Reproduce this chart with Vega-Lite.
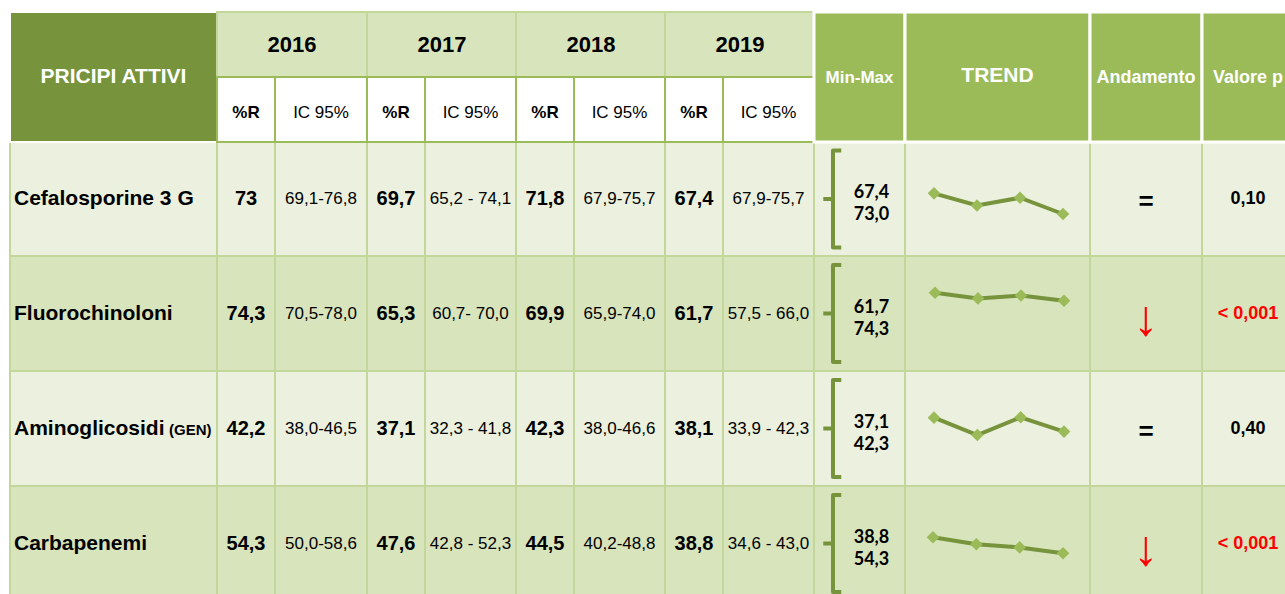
{
  "$schema": "https://vega.github.io/schema/vega-lite/v6.json",
  "width": 1285,
  "height": 594,
  "padding": 0,
  "autosize": {"type": "none"},
  "background": "#FFFFFF",
  "config": {"view": {"stroke": null}, "axis": {"disable": true}, "text": {"font": "Liberation Sans", "baseline": "middle"}},
  "datasets": {
    "hdr": [
      {"k": "dark", "c0": 0, "c1": 1, "r0": 0, "r1": 2, "cm": 0.5, "rm": 1, "t": "PRICIPI ATTIVI"},
      {"k": "year", "c0": 1, "c1": 3, "r0": 0, "r1": 1, "cm": 1, "rm": 0.5, "t": "2016"},
      {"k": "year", "c0": 3, "c1": 5, "r0": 0, "r1": 1, "cm": 3, "rm": 0.5, "t": "2017"},
      {"k": "year", "c0": 5, "c1": 7, "r0": 0, "r1": 1, "cm": 5, "rm": 0.5, "t": "2018"},
      {"k": "year", "c0": 7, "c1": 9, "r0": 0, "r1": 1, "cm": 7, "rm": 0.5, "t": "2019"},
      {"k": "subR", "c0": 1, "c1": 2, "r0": 1, "r1": 2, "cm": 1.5, "rm": 1.5, "t": "%R"},
      {"k": "subI", "c0": 2, "c1": 3, "r0": 1, "r1": 2, "cm": 2.5, "rm": 1.5, "t": "IC 95%"},
      {"k": "subR", "c0": 3, "c1": 4, "r0": 1, "r1": 2, "cm": 3.5, "rm": 1.5, "t": "%R"},
      {"k": "subI", "c0": 4, "c1": 5, "r0": 1, "r1": 2, "cm": 4.5, "rm": 1.5, "t": "IC 95%"},
      {"k": "subR", "c0": 5, "c1": 6, "r0": 1, "r1": 2, "cm": 5.5, "rm": 1.5, "t": "%R"},
      {"k": "subI", "c0": 6, "c1": 7, "r0": 1, "r1": 2, "cm": 6.5, "rm": 1.5, "t": "IC 95%"},
      {"k": "subR", "c0": 7, "c1": 8, "r0": 1, "r1": 2, "cm": 7.5, "rm": 1.5, "t": "%R"},
      {"k": "subI", "c0": 8, "c1": 9, "r0": 1, "r1": 2, "cm": 8.5, "rm": 1.5, "t": "IC 95%"},
      {"k": "green", "c0": 9, "c1": 10, "r0": 0, "r1": 2, "cm": 9.5, "rm": 1, "t": "Min-Max"},
      {"k": "green", "c0": 10, "c1": 11, "r0": 0, "r1": 2, "cm": 10.5, "rm": 1, "t": "TREND"},
      {"k": "green", "c0": 11, "c1": 12, "r0": 0, "r1": 2, "cm": 11.5, "rm": 1, "t": "Andamento"},
      {"k": "green", "c0": 12, "c1": 13, "r0": 0, "r1": 2, "cm": 12.5, "rm": 1, "t": "Valore p"}
    ],
    "rows": [
      {"drug": "Cefalosporine 3 G", "gen": "", "r0": 2, "r1": 3, "rm": 2.5, "band": "a", "mn": "67,4", "mx": "73,0", "tr": "=", "p": "0,10", "sig": "no"},
      {"drug": "Fluorochinoloni", "gen": "", "r0": 3, "r1": 4, "rm": 3.5, "band": "b", "mn": "61,7", "mx": "74,3", "tr": "↓", "p": "< 0,001", "sig": "yes"},
      {"drug": "Aminoglicosidi", "gen": "(GEN)", "r0": 4, "r1": 5, "rm": 4.5, "band": "a", "mn": "37,1", "mx": "42,3", "tr": "=", "p": "0,40", "sig": "no"},
      {"drug": "Carbapenemi", "gen": "", "r0": 5, "r1": 6, "rm": 5.5, "band": "b", "mn": "38,8", "mx": "54,3", "tr": "↓", "p": "< 0,001", "sig": "yes"}
    ],
    "vals": [
      {"drug": "Cefalosporine 3 G", "rm": 2.5, "year": 2016, "cR": 1.5, "cI": 2.5, "pr": "73", "v": 73, "ic": "69,1-76,8"},
      {"drug": "Cefalosporine 3 G", "rm": 2.5, "year": 2017, "cR": 3.5, "cI": 4.5, "pr": "69,7", "v": 69.7, "ic": "65,2 - 74,1"},
      {"drug": "Cefalosporine 3 G", "rm": 2.5, "year": 2018, "cR": 5.5, "cI": 6.5, "pr": "71,8", "v": 71.8, "ic": "67,9-75,7"},
      {"drug": "Cefalosporine 3 G", "rm": 2.5, "year": 2019, "cR": 7.5, "cI": 8.5, "pr": "67,4", "v": 67.4, "ic": "67,9-75,7"},
      {"drug": "Fluorochinoloni", "rm": 3.5, "year": 2016, "cR": 1.5, "cI": 2.5, "pr": "74,3", "v": 74.3, "ic": "70,5-78,0"},
      {"drug": "Fluorochinoloni", "rm": 3.5, "year": 2017, "cR": 3.5, "cI": 4.5, "pr": "65,3", "v": 65.3, "ic": "60,7- 70,0"},
      {"drug": "Fluorochinoloni", "rm": 3.5, "year": 2018, "cR": 5.5, "cI": 6.5, "pr": "69,9", "v": 69.9, "ic": "65,9-74,0"},
      {"drug": "Fluorochinoloni", "rm": 3.5, "year": 2019, "cR": 7.5, "cI": 8.5, "pr": "61,7", "v": 61.7, "ic": "57,5 - 66,0"},
      {"drug": "Aminoglicosidi", "rm": 4.5, "year": 2016, "cR": 1.5, "cI": 2.5, "pr": "42,2", "v": 42.2, "ic": "38,0-46,5"},
      {"drug": "Aminoglicosidi", "rm": 4.5, "year": 2017, "cR": 3.5, "cI": 4.5, "pr": "37,1", "v": 37.1, "ic": "32,3 - 41,8"},
      {"drug": "Aminoglicosidi", "rm": 4.5, "year": 2018, "cR": 5.5, "cI": 6.5, "pr": "42,3", "v": 42.3, "ic": "38,0-46,6"},
      {"drug": "Aminoglicosidi", "rm": 4.5, "year": 2019, "cR": 7.5, "cI": 8.5, "pr": "38,1", "v": 38.1, "ic": "33,9 - 42,3"},
      {"drug": "Carbapenemi", "rm": 5.5, "year": 2016, "cR": 1.5, "cI": 2.5, "pr": "54,3", "v": 54.3, "ic": "50,0-58,6"},
      {"drug": "Carbapenemi", "rm": 5.5, "year": 2017, "cR": 3.5, "cI": 4.5, "pr": "47,6", "v": 47.6, "ic": "42,8 - 52,3"},
      {"drug": "Carbapenemi", "rm": 5.5, "year": 2018, "cR": 5.5, "cI": 6.5, "pr": "44,5", "v": 44.5, "ic": "40,2-48,8"},
      {"drug": "Carbapenemi", "rm": 5.5, "year": 2019, "cR": 7.5, "cI": 8.5, "pr": "38,8", "v": 38.8, "ic": "34,6 - 43,0"}
    ],
    "vl": [{"c": 0}, {"c": 1}, {"c": 2}, {"c": 3}, {"c": 4}, {"c": 5}, {"c": 6}, {"c": 7}, {"c": 8}, {"c": 9}, {"c": 10}, {"c": 11}, {"c": 12}],
    "hl": [{"r": 3}, {"r": 4}, {"r": 5}]
  },
  "layer": [
    {
      "data": {"name": "rows"},
      "mark": {"type": "rect"},
      "encoding": {
        "x": {"datum": 0, "type": "quantitative", "axis": null, "scale": {"domain": [0,1,2,3,4,5,6,7,8,9,10,11,12,13], "range": [10,217,275,367,425,516,574,665,723,814,905,1090,1202,1294], "zero": false, "nice": false}},
        "x2": {"datum": 13},
        "y": {"field": "r0", "type": "quantitative", "axis": null, "scale": {"domain": [0,1,2,3,4,5,6], "range": [12,77,142,256,371,486,601], "zero": false, "nice": false}},
        "y2": {"field": "r1"},
        "fill": {"condition": {"test": "datum.band === 'a'", "value": "#EBF1DE"}, "value": "#D8E4BC"}
      }
    },
    {
      "data": {"name": "vl"},
      "mark": {"type": "rule", "color": "#C4D79B", "strokeWidth": 2},
      "encoding": {
        "x": {"field": "c", "type": "quantitative", "axis": null, "scale": {"domain": [0,1,2,3,4,5,6,7,8,9,10,11,12,13], "range": [10,217,275,367,425,516,574,665,723,814,905,1090,1202,1294], "zero": false, "nice": false}},
        "y": {"datum": 2, "type": "quantitative", "axis": null, "scale": {"domain": [0,1,2,3,4,5,6], "range": [12,77,142,256,371,486,601], "zero": false, "nice": false}},
        "y2": {"datum": 6}
      }
    },
    {
      "data": {"name": "hl"},
      "mark": {"type": "rule", "color": "#C4D79B", "strokeWidth": 2},
      "encoding": {
        "x": {"datum": 0, "type": "quantitative", "axis": null, "scale": {"domain": [0,1,2,3,4,5,6,7,8,9,10,11,12,13], "range": [10,217,275,367,425,516,574,665,723,814,905,1090,1202,1294], "zero": false, "nice": false}},
        "x2": {"datum": 13},
        "y": {"field": "r", "type": "quantitative", "axis": null, "scale": {"domain": [0,1,2,3,4,5,6], "range": [12,77,142,256,371,486,601], "zero": false, "nice": false}}
      }
    },
    {
      "data": {"name": "hdr"},
      "transform": [{"filter": "datum.k === 'dark'"}],
      "mark": {"type": "rect", "fill": "#77933C", "stroke": "#FFFFFF", "strokeWidth": 2},
      "encoding": {
        "x": {"field": "c0", "type": "quantitative", "axis": null, "scale": {"domain": [0,1,2,3,4,5,6,7,8,9,10,11,12,13], "range": [10,217,275,367,425,516,574,665,723,814,905,1090,1202,1294], "zero": false, "nice": false}},
        "x2": {"field": "c1"},
        "y": {"field": "r0", "type": "quantitative", "axis": null, "scale": {"domain": [0,1,2,3,4,5,6], "range": [12,77,142,256,371,486,601], "zero": false, "nice": false}},
        "y2": {"field": "r1"}
      }
    },
    {
      "data": {"name": "hdr"},
      "transform": [{"filter": "datum.k === 'year'"}],
      "mark": {"type": "rect", "fill": "#D8E4BC", "stroke": "#C4D79B", "strokeWidth": 2},
      "encoding": {
        "x": {"field": "c0", "type": "quantitative", "axis": null, "scale": {"domain": [0,1,2,3,4,5,6,7,8,9,10,11,12,13], "range": [10,217,275,367,425,516,574,665,723,814,905,1090,1202,1294], "zero": false, "nice": false}},
        "x2": {"field": "c1"},
        "y": {"field": "r0", "type": "quantitative", "axis": null, "scale": {"domain": [0,1,2,3,4,5,6], "range": [12,77,142,256,371,486,601], "zero": false, "nice": false}},
        "y2": {"field": "r1"}
      }
    },
    {
      "data": {"name": "hdr"},
      "transform": [{"filter": "datum.k === 'subR' || datum.k === 'subI'"}],
      "mark": {"type": "rect", "fill": "#FFFFFF", "stroke": "#9BBB59", "strokeWidth": 2},
      "encoding": {
        "x": {"field": "c0", "type": "quantitative", "axis": null, "scale": {"domain": [0,1,2,3,4,5,6,7,8,9,10,11,12,13], "range": [10,217,275,367,425,516,574,665,723,814,905,1090,1202,1294], "zero": false, "nice": false}},
        "x2": {"field": "c1"},
        "y": {"field": "r0", "type": "quantitative", "axis": null, "scale": {"domain": [0,1,2,3,4,5,6], "range": [12,77,142,256,371,486,601], "zero": false, "nice": false}},
        "y2": {"field": "r1"}
      }
    },
    {
      "data": {"name": "hdr"},
      "transform": [{"filter": "datum.k === 'green'"}],
      "mark": {"type": "rect", "fill": "#9BBB59", "stroke": "#FFFFFF", "strokeWidth": 3},
      "encoding": {
        "x": {"field": "c0", "type": "quantitative", "axis": null, "scale": {"domain": [0,1,2,3,4,5,6,7,8,9,10,11,12,13], "range": [10,217,275,367,425,516,574,665,723,814,905,1090,1202,1294], "zero": false, "nice": false}},
        "x2": {"field": "c1"},
        "y": {"field": "r0", "type": "quantitative", "axis": null, "scale": {"domain": [0,1,2,3,4,5,6], "range": [12,77,142,256,371,486,601], "zero": false, "nice": false}},
        "y2": {"field": "r1"}
      }
    },
    {
      "data": {"name": "hdr"},
      "transform": [{"filter": "datum.k === 'dark'"}],
      "mark": {"type": "text", "color": "#FFFFFF", "fontWeight": "bold", "fontSize": 21},
      "encoding": {
        "x": {"field": "cm", "type": "quantitative", "axis": null, "scale": {"domain": [0,1,2,3,4,5,6,7,8,9,10,11,12,13], "range": [10,217,275,367,425,516,574,665,723,814,905,1090,1202,1294], "zero": false, "nice": false}},
        "y": {"field": "rm", "type": "quantitative", "axis": null, "scale": {"domain": [0,1,2,3,4,5,6], "range": [12,77,142,256,371,486,601], "zero": false, "nice": false}},
        "text": {"field": "t"}
      }
    },
    {
      "data": {"name": "hdr"},
      "transform": [{"filter": "datum.k === 'green' && datum.t === 'TREND'"}],
      "mark": {"type": "text", "color": "#FFFFFF", "fontWeight": "bold", "fontSize": 21, "dy": -1},
      "encoding": {
        "x": {"field": "cm", "type": "quantitative", "axis": null, "scale": {"domain": [0,1,2,3,4,5,6,7,8,9,10,11,12,13], "range": [10,217,275,367,425,516,574,665,723,814,905,1090,1202,1294], "zero": false, "nice": false}},
        "y": {"field": "rm", "type": "quantitative", "axis": null, "scale": {"domain": [0,1,2,3,4,5,6], "range": [12,77,142,256,371,486,601], "zero": false, "nice": false}},
        "text": {"field": "t"}
      }
    },
    {
      "data": {"name": "hdr"},
      "transform": [{"filter": "datum.k === 'green' && datum.t === 'Min-Max'"}],
      "mark": {"type": "text", "color": "#FFFFFF", "fontWeight": "bold", "fontSize": 17, "dy": 1},
      "encoding": {
        "x": {"field": "cm", "type": "quantitative", "axis": null, "scale": {"domain": [0,1,2,3,4,5,6,7,8,9,10,11,12,13], "range": [10,217,275,367,425,516,574,665,723,814,905,1090,1202,1294], "zero": false, "nice": false}},
        "y": {"field": "rm", "type": "quantitative", "axis": null, "scale": {"domain": [0,1,2,3,4,5,6], "range": [12,77,142,256,371,486,601], "zero": false, "nice": false}},
        "text": {"field": "t"}
      }
    },
    {
      "data": {"name": "hdr"},
      "transform": [{"filter": "datum.k === 'green' && datum.t !== 'TREND' && datum.t !== 'Min-Max'"}],
      "mark": {"type": "text", "color": "#FFFFFF", "fontWeight": "bold", "fontSize": 18, "dy": 1},
      "encoding": {
        "x": {"field": "cm", "type": "quantitative", "axis": null, "scale": {"domain": [0,1,2,3,4,5,6,7,8,9,10,11,12,13], "range": [10,217,275,367,425,516,574,665,723,814,905,1090,1202,1294], "zero": false, "nice": false}},
        "y": {"field": "rm", "type": "quantitative", "axis": null, "scale": {"domain": [0,1,2,3,4,5,6], "range": [12,77,142,256,371,486,601], "zero": false, "nice": false}},
        "text": {"field": "t"}
      }
    },
    {
      "data": {"name": "hdr"},
      "transform": [{"filter": "datum.k === 'year'"}],
      "mark": {"type": "text", "color": "#000000", "fontWeight": "bold", "fontSize": 22, "dx": 75},
      "encoding": {
        "x": {"field": "cm", "type": "quantitative", "axis": null, "scale": {"domain": [0,1,2,3,4,5,6,7,8,9,10,11,12,13], "range": [10,217,275,367,425,516,574,665,723,814,905,1090,1202,1294], "zero": false, "nice": false}},
        "y": {"field": "rm", "type": "quantitative", "axis": null, "scale": {"domain": [0,1,2,3,4,5,6], "range": [12,77,142,256,371,486,601], "zero": false, "nice": false}},
        "text": {"field": "t"}
      }
    },
    {
      "data": {"name": "hdr"},
      "transform": [{"filter": "datum.k === 'subR'"}],
      "mark": {"type": "text", "color": "#000000", "fontWeight": "bold", "fontSize": 17, "dy": 3},
      "encoding": {
        "x": {"field": "cm", "type": "quantitative", "axis": null, "scale": {"domain": [0,1,2,3,4,5,6,7,8,9,10,11,12,13], "range": [10,217,275,367,425,516,574,665,723,814,905,1090,1202,1294], "zero": false, "nice": false}},
        "y": {"field": "rm", "type": "quantitative", "axis": null, "scale": {"domain": [0,1,2,3,4,5,6], "range": [12,77,142,256,371,486,601], "zero": false, "nice": false}},
        "text": {"field": "t"}
      }
    },
    {
      "data": {"name": "hdr"},
      "transform": [{"filter": "datum.k === 'subI'"}],
      "mark": {"type": "text", "color": "#000000", "fontSize": 17, "dy": 3},
      "encoding": {
        "x": {"field": "cm", "type": "quantitative", "axis": null, "scale": {"domain": [0,1,2,3,4,5,6,7,8,9,10,11,12,13], "range": [10,217,275,367,425,516,574,665,723,814,905,1090,1202,1294], "zero": false, "nice": false}},
        "y": {"field": "rm", "type": "quantitative", "axis": null, "scale": {"domain": [0,1,2,3,4,5,6], "range": [12,77,142,256,371,486,601], "zero": false, "nice": false}},
        "text": {"field": "t"}
      }
    },
    {
      "data": {"name": "rows"},
      "mark": {"type": "text", "color": "#000000", "fontWeight": "bold", "fontSize": 21, "align": "left", "dx": 4},
      "encoding": {
        "x": {"datum": 0, "type": "quantitative", "axis": null, "scale": {"domain": [0,1,2,3,4,5,6,7,8,9,10,11,12,13], "range": [10,217,275,367,425,516,574,665,723,814,905,1090,1202,1294], "zero": false, "nice": false}},
        "y": {"field": "rm", "type": "quantitative", "axis": null, "scale": {"domain": [0,1,2,3,4,5,6], "range": [12,77,142,256,371,486,601], "zero": false, "nice": false}},
        "text": {"field": "drug"}
      }
    },
    {
      "data": {"name": "rows"},
      "transform": [{"filter": "datum.gen !== ''"}],
      "mark": {"type": "text", "color": "#000000", "fontWeight": "bold", "fontSize": 15, "align": "left", "dx": 159, "dy": 1},
      "encoding": {
        "x": {"datum": 0, "type": "quantitative", "axis": null, "scale": {"domain": [0,1,2,3,4,5,6,7,8,9,10,11,12,13], "range": [10,217,275,367,425,516,574,665,723,814,905,1090,1202,1294], "zero": false, "nice": false}},
        "y": {"field": "rm", "type": "quantitative", "axis": null, "scale": {"domain": [0,1,2,3,4,5,6], "range": [12,77,142,256,371,486,601], "zero": false, "nice": false}},
        "text": {"field": "gen"}
      }
    },
    {
      "data": {"name": "vals"},
      "mark": {"type": "text", "color": "#000000", "fontWeight": "bold", "fontSize": 20},
      "encoding": {
        "x": {"field": "cR", "type": "quantitative", "axis": null, "scale": {"domain": [0,1,2,3,4,5,6,7,8,9,10,11,12,13], "range": [10,217,275,367,425,516,574,665,723,814,905,1090,1202,1294], "zero": false, "nice": false}},
        "y": {"field": "rm", "type": "quantitative", "axis": null, "scale": {"domain": [0,1,2,3,4,5,6], "range": [12,77,142,256,371,486,601], "zero": false, "nice": false}},
        "text": {"field": "pr"}
      }
    },
    {
      "data": {"name": "vals"},
      "mark": {"type": "text", "color": "#000000", "fontSize": 17},
      "encoding": {
        "x": {"field": "cI", "type": "quantitative", "axis": null, "scale": {"domain": [0,1,2,3,4,5,6,7,8,9,10,11,12,13], "range": [10,217,275,367,425,516,574,665,723,814,905,1090,1202,1294], "zero": false, "nice": false}},
        "y": {"field": "rm", "type": "quantitative", "axis": null, "scale": {"domain": [0,1,2,3,4,5,6], "range": [12,77,142,256,371,486,601], "zero": false, "nice": false}},
        "text": {"field": "ic"}
      }
    },
    {
      "data": {"name": "rows"},
      "mark": {"type": "text", "color": "#000000", "font": "Lato", "fontWeight": "bold", "fontSize": 18, "dx": 12, "dy": -6},
      "encoding": {
        "x": {"datum": 9.5, "type": "quantitative", "axis": null, "scale": {"domain": [0,1,2,3,4,5,6,7,8,9,10,11,12,13], "range": [10,217,275,367,425,516,574,665,723,814,905,1090,1202,1294], "zero": false, "nice": false}},
        "y": {"field": "rm", "type": "quantitative", "axis": null, "scale": {"domain": [0,1,2,3,4,5,6], "range": [12,77,142,256,371,486,601], "zero": false, "nice": false}},
        "text": {"field": "mn"}
      }
    },
    {
      "data": {"name": "rows"},
      "mark": {"type": "text", "color": "#000000", "font": "Lato", "fontWeight": "bold", "fontSize": 18, "dx": 12, "dy": 16},
      "encoding": {
        "x": {"datum": 9.5, "type": "quantitative", "axis": null, "scale": {"domain": [0,1,2,3,4,5,6,7,8,9,10,11,12,13], "range": [10,217,275,367,425,516,574,665,723,814,905,1090,1202,1294], "zero": false, "nice": false}},
        "y": {"field": "rm", "type": "quantitative", "axis": null, "scale": {"domain": [0,1,2,3,4,5,6], "range": [12,77,142,256,371,486,601], "zero": false, "nice": false}},
        "text": {"field": "mx"}
      }
    },
    {
      "data": {"name": "rows"},
      "mark": {"type": "point", "shape": "M0.17,-1L0,-1L0,1L0.17,1M0,0L-0.2,0", "size": 9409, "filled": false, "stroke": "#77933C", "strokeWidth": 4, "opacity": 1, "strokeJoin": "round", "xOffset": 19},
      "encoding": {
        "x": {"datum": 9, "type": "quantitative", "axis": null, "scale": {"domain": [0,1,2,3,4,5,6,7,8,9,10,11,12,13], "range": [10,217,275,367,425,516,574,665,723,814,905,1090,1202,1294], "zero": false, "nice": false}},
        "y": {"field": "rm", "type": "quantitative", "axis": null, "scale": {"domain": [0,1,2,3,4,5,6], "range": [12,77,142,256,371,486,601], "zero": false, "nice": false}}
      }
    },
    {
      "data": {"name": "rows"},
      "transform": [{"filter": "datum.tr === '='"}],
      "mark": {"type": "text", "color": "#000000", "fontWeight": "bold", "fontSize": 26, "dy": 3},
      "encoding": {
        "x": {"datum": 11.5, "type": "quantitative", "axis": null, "scale": {"domain": [0,1,2,3,4,5,6,7,8,9,10,11,12,13], "range": [10,217,275,367,425,516,574,665,723,814,905,1090,1202,1294], "zero": false, "nice": false}},
        "y": {"field": "rm", "type": "quantitative", "axis": null, "scale": {"domain": [0,1,2,3,4,5,6], "range": [12,77,142,256,371,486,601], "zero": false, "nice": false}},
        "text": {"field": "tr"}
      }
    },
    {
      "data": {"name": "rows"},
      "transform": [{"filter": "datum.tr !== '='"}],
      "mark": {"type": "text", "color": "#FF0000", "fontSize": 50, "dy": 6},
      "encoding": {
        "x": {"datum": 11.5, "type": "quantitative", "axis": null, "scale": {"domain": [0,1,2,3,4,5,6,7,8,9,10,11,12,13], "range": [10,217,275,367,425,516,574,665,723,814,905,1090,1202,1294], "zero": false, "nice": false}},
        "y": {"field": "rm", "type": "quantitative", "axis": null, "scale": {"domain": [0,1,2,3,4,5,6], "range": [12,77,142,256,371,486,601], "zero": false, "nice": false}},
        "text": {"field": "tr"}
      }
    },
    {
      "data": {"name": "rows"},
      "mark": {"type": "text", "fontWeight": "bold", "fontSize": 18},
      "encoding": {
        "x": {"datum": 12.5, "type": "quantitative", "axis": null, "scale": {"domain": [0,1,2,3,4,5,6,7,8,9,10,11,12,13], "range": [10,217,275,367,425,516,574,665,723,814,905,1090,1202,1294], "zero": false, "nice": false}},
        "y": {"field": "rm", "type": "quantitative", "axis": null, "scale": {"domain": [0,1,2,3,4,5,6], "range": [12,77,142,256,371,486,601], "zero": false, "nice": false}},
        "text": {"field": "p"},
        "color": {"condition": {"test": "datum.sig === 'yes'", "value": "#FF0000"}, "value": "#000000"}
      }
    },
    {
      "resolve": {"scale": {"x": "independent", "y": "independent"}},
      "layer": [
        {
          "data": {"name": "vals"},
          "transform": [{"filter": "datum.drug === 'Cefalosporine 3 G'"}],
          "mark": {"type": "line", "color": "#77933C", "strokeWidth": 4, "point": {"shape": "diamond", "size": 160, "filled": true, "fill": "#9BBB59", "strokeWidth": 0, "opacity": 1}},
          "encoding": {
            "x": {"field": "year", "type": "quantitative", "axis": null, "scale": {"domain": [2016, 2019], "range": [934, 1063], "zero": false, "nice": false}},
            "y": {"field": "v", "type": "quantitative", "axis": null, "scale": {"domain": [67.4, 73], "range": [214, 193.3], "zero": false, "nice": false}}
          }
        },
        {
          "data": {"name": "vals"},
          "transform": [{"filter": "datum.drug === 'Fluorochinoloni'"}],
          "mark": {"type": "line", "color": "#77933C", "strokeWidth": 4, "point": {"shape": "diamond", "size": 160, "filled": true, "fill": "#9BBB59", "strokeWidth": 0, "opacity": 1}},
          "encoding": {
            "x": {"field": "year", "type": "quantitative", "axis": null, "scale": {"domain": [2016, 2019], "range": [935, 1064], "zero": false, "nice": false}},
            "y": {"field": "v", "type": "quantitative", "axis": null, "scale": {"domain": [61.7, 74.3], "range": [300.7, 292.7], "zero": false, "nice": false}}
          }
        },
        {
          "data": {"name": "vals"},
          "transform": [{"filter": "datum.drug === 'Aminoglicosidi'"}],
          "mark": {"type": "line", "color": "#77933C", "strokeWidth": 4, "point": {"shape": "diamond", "size": 160, "filled": true, "fill": "#9BBB59", "strokeWidth": 0, "opacity": 1}},
          "encoding": {
            "x": {"field": "year", "type": "quantitative", "axis": null, "scale": {"domain": [2016, 2019], "range": [934, 1064], "zero": false, "nice": false}},
            "y": {"field": "v", "type": "quantitative", "axis": null, "scale": {"domain": [37.1, 42.3], "range": [435, 417.3], "zero": false, "nice": false}}
          }
        },
        {
          "data": {"name": "vals"},
          "transform": [{"filter": "datum.drug === 'Carbapenemi'"}],
          "mark": {"type": "line", "color": "#77933C", "strokeWidth": 4, "point": {"shape": "diamond", "size": 160, "filled": true, "fill": "#9BBB59", "strokeWidth": 0, "opacity": 1}},
          "encoding": {
            "x": {"field": "year", "type": "quantitative", "axis": null, "scale": {"domain": [2016, 2019], "range": [933, 1063], "zero": false, "nice": false}},
            "y": {"field": "v", "type": "quantitative", "axis": null, "scale": {"domain": [38.8, 54.3], "range": [553.3, 537.3], "zero": false, "nice": false}}
          }
        }
      ]
    }
  ]
}
